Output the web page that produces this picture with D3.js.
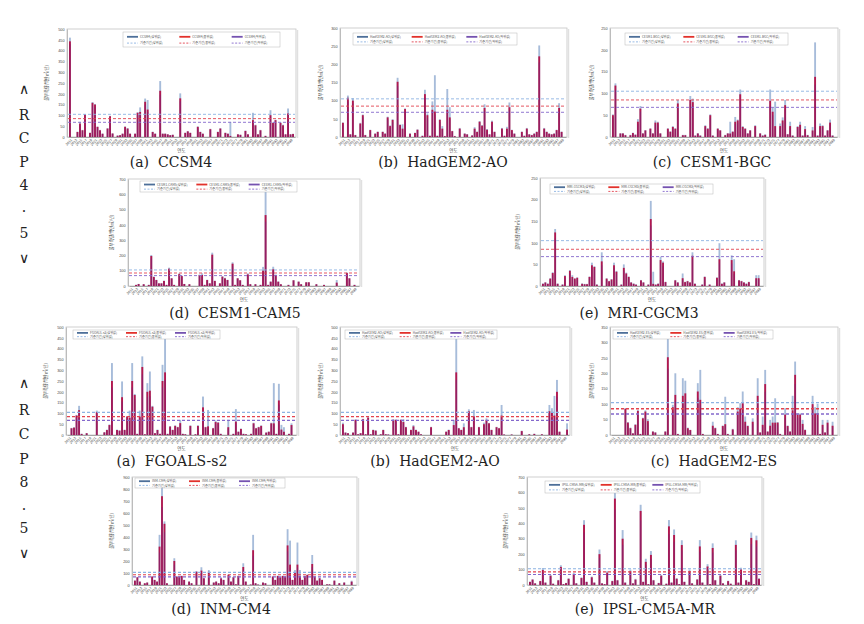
<!DOCTYPE html>
<html><head><meta charset="utf-8">
<script src="https://cdn.jsdelivr.net/npm/d3@7"></script>
<style>body{margin:0;background:#fff}svg{display:block}</style>
</head><body>
<svg id="c" width="864" height="624"></svg>
<script>
// ---------- categories ----------
const years = d3.range(2011, 2101);
const models = ["CCSM4","HadGEM2-AO","CESM1-BGC","CESM1-CAM5","MRI-CGCM3","FGOALS-s2","HadGEM2-AO","HadGEM2-ES","INM-CM4","IPSL-CM5A-MR"];
const captions = ["(a)  CCSM4","(b)  HadGEM2-AO","(c)  CESM1-BGC","(d)  CESM1-CAM5","(e)  MRI-CGCM3","(a)  FGOALS-s2","(b)  HadGEM2-AO","(c)  HadGEM2-ES","(d)  INM-CM4","(e)  IPSL-CM5A-MR"];
const yMax  = [500,300,250,700,250,500,500,350,900,700];
const yStep = [50,50,50,100,50,50,50,50,100,100];
const refLines = [105, 85, 68];
const seriesSuffix = ["(상위값)","(중위값)","(하위값)"];
const refLabels = ["기준기간(상위값)","기준기간(중위값)","기준기간(하위값)"];
const yTitle = "물부족량(백만㎥/년)";
const xTitle = "연도";
const rcpLabels = [["∧","R","C","P","4",".","5","∨"],["∧","R","C","P","8",".","5","∨"]];

// ---------- values (hi = blue, mid = red, lo = purple) ----------
const ccsm4Hi = [460,0,0,25,70,33,106,0,20,162, 153,48,33,16,0,41,98,17,0,7, 9,16,49,41,16,0,16,115,137,0, 178,171,0,25,16,0,259,16,16,13, 9,11,0,0,202,0,20,28,20,0, 0,49,25,16,0,0,38,0,0,25, 41,0,20,16,70,0,0,13,11,0, 30,13,0,112,57,13,33,0,6,0, 124,68,80,0,68,57,13,132,13,15];
const ccsm4Mid = [443,0,0,23,62,31,104,0,19,158, 150,47,31,15,0,39,96,16,0,6, 8,15,47,39,15,0,15,112,116,0, 163,127,0,23,15,0,214,15,15,12, 8,10,0,0,179,0,19,26,19,0, 0,47,23,15,0,0,36,0,0,23, 39,0,19,15,5,0,0,12,10,0, 28,12,0,78,54,12,31,0,5,0, 101,65,78,0,65,54,12,109,12,14];
const ccsm4Lo = [430,0,0,20,55,27,95,0,16,145, 140,42,27,13,0,35,88,14,0,5, 7,13,42,35,13,0,13,100,105,0, 150,115,0,20,13,0,195,13,13,10, 7,8,0,0,165,0,16,23,16,0, 0,42,20,13,0,0,32,0,0,20, 35,0,16,13,4,0,0,10,8,0, 25,10,0,70,48,10,27,0,4,0, 92,58,70,0,58,48,10,98,10,12];

const hadao45Hi = [40,0,114,8,107,6,0,39,62,6, 0,20,0,10,15,0,15,10,56,32, 49,0,163,35,35,79,0,10,0,12, 21,0,4,130,65,4,98,170,4,49, 30,3,132,82,17,3,0,25,0,10, 8,0,5,27,15,44,33,90,22,8, 45,15,0,0,25,4,28,95,20,10, 0,0,15,4,25,8,6,10,15,252, 0,25,15,10,8,10,20,93,15,0];
const hadao45Mid = [39,0,108,7,100,5,0,37,60,5, 0,19,0,9,14,0,14,9,54,30, 47,0,152,33,23,77,0,9,0,11, 20,0,3,118,60,3,75,70,3,47, 23,2,75,54,16,2,0,23,0,9, 7,0,4,23,14,42,31,80,20,7, 42,14,0,0,23,3,23,82,19,9, 0,0,14,3,23,7,5,9,14,222, 0,23,14,9,7,9,19,80,14,0];
const hadao45Lo = [34,0,98,6,92,4,0,32,54,4, 0,16,0,8,12,0,12,8,48,26, 41,0,140,29,20,70,0,8,0,9, 17,0,2,108,52,2,66,62,2,41, 20,2,66,48,14,2,0,20,0,8, 6,0,3,20,12,37,27,72,17,6, 37,12,0,0,20,2,20,74,16,8, 0,0,12,2,20,6,4,8,12,205, 0,20,12,8,6,8,16,72,12,0];

const bgcHi = [52,123,0,9,9,5,0,5,10,6, 41,71,9,16,0,20,9,38,35,9, 0,0,20,13,25,20,85,0,5,5, 0,94,88,4,9,4,0,27,20,52, 4,0,20,16,0,5,9,35,13,46, 40,109,25,20,9,16,0,27,0,9, 4,6,0,109,68,81,0,31,45,85, 7,35,4,0,25,35,4,25,5,0, 23,217,4,31,27,4,16,40,4,0];
const bgcMid = [50,118,0,8,8,4,0,4,9,5, 35,65,8,15,0,19,8,33,33,8, 0,0,19,12,23,19,77,0,4,4, 0,85,80,3,8,3,0,25,19,50, 3,0,19,15,0,4,8,8,12,35, 38,98,23,19,8,15,0,25,0,8, 3,5,0,83,58,25,0,25,38,73, 6,25,3,0,23,28,3,18,4,0, 15,138,3,25,25,3,15,33,3,0];
const bgcLo = [45,108,0,7,7,3,0,3,8,4, 30,58,7,13,0,16,7,29,29,7, 0,0,16,10,20,16,68,0,3,3, 0,76,71,2,7,2,0,22,16,44, 2,0,16,13,0,3,7,7,10,30, 33,88,20,16,7,13,0,22,0,7, 2,4,0,72,50,22,0,22,33,64, 5,22,2,0,20,24,2,15,3,0, 13,120,2,22,22,2,13,29,2,0];

const cam5Hi = [0,0,8,14,0,12,0,8,203,62, 41,18,18,35,8,120,52,8,0,83, 68,14,0,12,0,0,0,75,83,8, 41,18,218,35,0,18,64,54,41,0, 155,8,52,39,8,0,83,12,0,12, 0,8,125,628,8,30,126,75,30,12, 0,0,8,0,39,0,30,12,0,26, 26,0,0,12,0,0,8,0,0,0, 0,39,0,0,0,89,52,0,8,0];
const cam5Mid = [0,0,7,13,0,11,0,7,196,59, 39,17,17,33,7,113,50,7,0,78, 65,13,0,11,0,0,0,72,72,7, 39,17,205,33,0,17,61,50,39,0, 146,7,50,37,7,0,76,11,0,11, 0,7,100,464,7,28,109,72,28,11, 0,0,7,0,37,0,28,11,0,24, 24,0,0,11,0,0,7,0,0,0, 0,22,0,0,0,85,50,0,7,0];
const cam5Lo = [0,0,5,11,0,9,0,5,180,52, 34,14,14,28,5,100,44,5,0,70, 58,11,0,9,0,0,0,64,62,5, 34,14,188,28,0,14,54,44,34,0, 130,5,44,32,5,0,68,9,0,9, 0,5,88,420,5,24,96,64,24,9, 0,0,5,0,32,0,24,9,0,20, 20,0,0,9,0,0,5,0,0,0, 0,18,0,0,0,76,44,0,5,0];

const mriHi = [6,9,6,18,32,132,6,0,4,25, 0,37,25,18,20,0,6,5,5,22, 54,46,4,0,78,0,18,12,16,54, 35,0,4,50,31,22,9,6,4,0, 14,9,0,4,197,33,4,6,68,57, 10,0,0,0,14,9,0,29,10,12, 9,78,6,0,0,4,22,0,4,0, 0,20,99,6,9,0,0,71,62,0, 14,12,9,6,10,0,0,25,25,0];
const mriMid = [5,8,5,17,30,124,5,0,3,23, 0,35,21,17,19,0,5,4,4,21, 48,44,3,0,57,0,17,11,15,48, 33,0,3,42,29,21,8,5,3,0, 13,8,0,3,155,5,3,5,60,54, 9,0,0,0,13,8,0,18,9,11, 8,70,5,0,0,3,21,0,3,0, 0,19,62,5,8,0,0,60,34,0, 13,11,8,5,9,0,0,18,18,0];
const mriLo = [4,6,4,14,26,110,4,0,2,19, 0,30,18,14,16,0,4,3,3,18, 42,38,2,0,48,0,14,9,12,42, 28,0,2,36,25,18,6,4,2,0, 11,6,0,2,140,4,2,4,52,46, 7,0,0,0,11,6,0,15,7,9, 6,62,4,0,0,2,18,0,2,0, 0,16,52,4,6,0,0,52,28,0, 11,9,6,4,7,0,0,15,15,0];

const fgoalsHi = [0,33,36,93,135,6,0,9,0,0, 0,113,0,0,13,25,49,333,0,25, 22,248,25,88,113,333,190,6,113,364, 4,240,294,135,9,25,6,325,456,6, 41,25,45,38,70,6,4,0,45,0, 4,45,0,178,38,116,0,33,67,60, 6,0,0,70,0,6,120,16,30,6, 4,0,6,57,33,38,45,0,12,16, 57,240,6,237,47,36,0,6,54,0];
const fgoalsMid = [0,31,34,90,115,5,0,8,0,0, 0,105,0,0,12,23,46,250,0,23, 20,175,23,85,80,250,185,5,85,315, 3,200,205,131,8,23,5,250,290,5, 39,23,42,36,55,5,3,0,42,0, 3,42,0,128,36,40,0,31,60,57, 5,0,0,36,0,5,62,15,28,5, 3,0,5,54,31,36,42,0,11,15, 54,54,5,160,25,15,0,5,46,0];
const fgoalsLo = [0,27,30,80,100,4,0,6,0,0, 0,95,0,0,10,20,40,220,0,20, 17,155,20,75,70,220,165,4,75,280, 2,175,180,115,6,20,4,220,255,4, 34,20,37,32,48,4,2,0,37,0, 2,37,0,112,32,35,0,27,52,50, 4,0,0,31,0,4,54,13,24,4, 2,0,4,48,27,31,37,0,9,13, 48,48,4,140,22,13,0,4,40,0];

const hadao85Hi = [57,12,9,0,12,73,4,9,75,4, 85,4,25,22,0,4,25,4,3,0, 73,72,4,72,73,38,0,25,46,25, 16,4,0,0,0,38,0,0,0,0, 0,16,25,0,70,472,33,25,54,0, 119,38,116,0,38,0,57,77,56,25, 0,38,33,139,3,0,0,3,0,0, 0,20,0,0,4,0,6,0,0,4, 0,0,139,124,181,255,16,0,0,54];
const hadao85Mid = [50,11,8,0,11,70,3,8,73,3, 80,3,23,20,0,3,23,3,2,0, 70,70,3,70,60,36,0,23,40,23, 15,3,0,0,0,36,0,0,0,0, 0,15,23,0,46,290,31,23,36,0, 110,36,86,0,36,0,50,70,54,23, 0,36,31,90,2,0,0,2,0,0, 0,18,0,0,3,0,5,0,0,3, 0,0,110,105,90,200,15,0,0,25];
const hadao85Lo = [43,9,6,0,9,62,2,6,64,2, 70,2,19,16,0,2,19,2,1,0, 62,62,2,62,52,30,0,19,34,19, 12,2,0,0,0,30,0,0,0,0, 0,12,19,0,40,255,26,19,30,0, 96,30,75,0,30,0,43,62,47,19, 0,30,26,78,1,0,0,1,0,0, 0,15,0,0,2,0,4,0,0,2, 0,0,96,92,78,175,12,0,0,20];

const hadesHi = [0,0,0,0,0,87,42,24,6,35, 81,4,56,80,51,0,12,9,0,0, 0,12,320,0,98,200,4,0,184,176, 24,17,0,0,168,211,4,0,0,0, 43,24,4,0,31,124,4,0,20,0, 90,103,141,60,31,0,54,0,184,9, 60,211,12,49,60,119,42,4,0,87, 31,12,127,238,70,70,49,18,0,0, 127,90,101,4,49,9,49,0,43,0];
const hadesMid = [0,0,0,0,0,85,40,22,5,33, 78,3,54,76,45,0,11,8,0,0, 0,11,252,0,90,130,3,0,127,135, 22,16,0,0,141,114,3,0,0,0, 30,22,3,0,29,35,3,0,18,0, 76,86,103,43,29,0,43,0,127,8, 33,165,11,30,40,40,40,3,0,66, 29,11,80,195,66,66,36,16,0,0, 100,70,70,3,33,8,40,0,30,0];
const hadesLo = [0,0,0,0,0,72,34,18,4,28, 66,2,46,64,38,0,9,6,0,0, 0,9,215,0,76,110,2,0,108,115, 18,13,0,0,120,97,2,0,0,0, 25,18,2,0,24,30,2,0,15,0, 64,73,88,36,24,0,36,0,108,6, 28,140,9,25,34,34,34,2,0,56, 24,9,68,165,56,56,30,13,0,0, 85,60,60,2,28,6,34,0,25,0];

const inmHi = [38,67,30,0,15,22,0,73,44,30, 418,822,530,15,0,0,223,73,73,78, 44,0,30,15,0,117,0,148,58,0, 125,0,22,30,15,64,44,0,88,30, 67,6,78,0,181,30,0,4,418,15, 4,0,22,15,0,0,73,44,78,67, 78,73,465,370,44,125,354,125,44,78, 88,0,250,73,38,58,44,0,6,6, 0,38,0,15,0,22,0,0,36,0];
const inmMid = [36,64,28,0,14,20,0,70,42,28, 320,740,510,14,0,0,200,70,70,75, 42,0,28,14,0,110,0,120,56,0, 110,0,20,28,14,55,42,0,84,28, 64,5,75,0,150,28,0,3,290,14, 3,0,20,14,0,0,70,42,75,64, 75,70,330,170,42,105,170,75,42,75, 84,0,175,70,36,56,42,0,5,5, 0,36,0,14,0,20,0,0,28,0];
const inmLo = [30,54,23,0,11,16,0,60,36,23, 270,650,440,11,0,0,170,60,60,64, 36,0,23,11,0,94,0,100,47,0, 94,0,16,23,11,46,36,0,72,23, 54,4,64,0,128,23,0,2,245,11, 2,0,16,11,0,0,60,36,64,54, 64,60,280,145,36,90,145,64,36,64, 72,0,150,60,30,47,36,0,4,4, 0,30,0,11,0,16,0,0,23,0];

const ipslHi = [22,37,12,0,27,110,17,0,66,9, 0,33,128,6,14,44,0,78,12,0, 50,420,22,0,55,17,0,230,12,6, 90,0,28,615,33,0,356,17,0,100, 12,40,0,520,22,170,6,220,33,0, 14,66,0,9,421,17,360,45,6,290, 22,0,100,12,0,38,291,17,0,135, 6,270,33,0,66,12,0,28,9,0, 290,17,112,0,33,22,340,6,320,44];
const ipslMid = [20,35,10,0,25,97,15,0,60,8, 0,30,117,5,12,40,0,70,10,0, 45,390,20,0,50,15,0,200,10,5, 80,0,25,560,30,0,300,15,0,90, 10,35,0,480,20,150,5,195,30,0, 12,60,0,8,380,15,324,40,5,259, 20,0,90,10,0,35,250,15,0,120, 5,240,30,0,60,10,0,25,8,0, 260,15,100,0,30,20,305,5,290,40];
const ipslLo = [17,30,8,0,21,85,12,0,52,6, 0,26,100,4,10,34,0,60,8,0, 38,340,17,0,43,12,0,175,8,4, 70,0,21,490,26,0,260,12,0,78, 8,30,0,420,17,130,4,170,26,0, 10,52,0,6,330,12,280,34,4,225, 17,0,78,8,0,30,215,12,0,104, 4,210,26,0,52,8,0,21,6,0, 225,12,86,0,26,17,265,4,250,34];

const seriesHi  = [ccsm4Hi, hadao45Hi, bgcHi, cam5Hi, mriHi, fgoalsHi, hadao85Hi, hadesHi, inmHi, ipslHi];
const seriesMid = [ccsm4Mid, hadao45Mid, bgcMid, cam5Mid, mriMid, fgoalsMid, hadao85Mid, hadesMid, inmMid, ipslMid];
const seriesLo  = [ccsm4Lo, hadao45Lo, bgcLo, cam5Lo, mriLo, fgoalsLo, hadao85Lo, hadesLo, inmLo, ipslLo];

// ---------- layout & style ----------
const layout = [
  {l:67, r:296, t:29, b:137, cx:171, cy:167, yt:48, lg:[123,32,157,15], dw:0.9},
  {l:340,r:567, t:28, b:137, cx:443, cy:167, yt:322,lg:[353,33,164,12], dw:0.9},
  {l:610,r:838, t:28, b:137, cx:712, cy:167, yt:593,lg:[625,33,163,12], dw:0.9},
  {l:128,r:360, t:179,b:286, cx:235, cy:318, yt:113,lg:[140,181,157,11], dw:0.9},
  {l:540,r:764, t:178,b:286, cx:639, cy:318, yt:519,lg:[550,184,163,10], dw:0.9},
  {l:66, r:297, t:327,b:435, cx:172, cy:466, yt:47, lg:[73,330,147,9], dw:1.3},
  {l:340,r:570, t:327,b:435, cx:435, cy:466, yt:322,lg:[345,330,152,9], dw:1.3},
  {l:610,r:838, t:327,b:435, cx:714, cy:466, yt:593,lg:[613,330,160,9], dw:1.3},
  {l:132,r:357, t:477,b:585, cx:221, cy:614, yt:113,lg:[135,478,150,10], dw:1.1},
  {l:527,r:762, t:477,b:585, cx:645, cy:614, yt:507,lg:[545,481,155,12], dw:1.1}
];
const barColors = {hi:"#a7bcda", mid:"#b3184e", lo:"#7e2472"};
const legendLineColors = ["#4d6f99","#e2312b","#7552b0"];
const refColors = ["#8db3e2","#e2434f","#8468cc"];
const rcpY = [[89,115,138,162,185,207,233,258],[383,410,434,459,482,505,528,553]];

const svg = d3.select("#c");
svg.append("rect").attr("width",864).attr("height",624).attr("fill","#fff");

const KR = "'Noto Sans CJK KR', 'Noto Sans', sans-serif";

function drawPanel(i){
  const L = layout[i];
  const g = svg.append("g");
  const x = d3.scaleBand().domain(years).range([L.l+1, L.r-1]).paddingInner(0.25).paddingOuter(0.4);
  const y = d3.scaleLinear().domain([0, yMax[i]]).range([L.b, L.t]);

  g.append("rect").attr("x",L.l).attr("y",L.t).attr("width",L.r-L.l).attr("height",L.b-L.t)
    .attr("fill","#fff").attr("stroke","#c4c4c4").attr("stroke-width",0.8);
  g.append("line").attr("x1",L.r+1.5).attr("x2",L.r+1.5).attr("y1",L.t+1).attr("y2",L.b+1)
    .attr("stroke","#e0e0e0").attr("stroke-width",1.5);

  // y axis
  const ya = d3.axisLeft(y).tickValues(d3.range(0, yMax[i]+1, yStep[i])).tickSize(0).tickPadding(2.5);
  const yg = g.append("g").attr("transform",`translate(${L.l},0)`).call(ya);
  yg.attr("font-size",3.8).attr("font-family","'Liberation Sans', Arial, sans-serif");
  yg.select(".domain").attr("stroke","#a0a0a0").attr("stroke-width",0.6);
  yg.selectAll("text").attr("fill","#444");

  // bars
  const bw = x.bandwidth();
  const idx = d3.range(years.length);
  g.append("g").selectAll("rect").data(idx).join("rect")
    .attr("x", j => x(years[j])).attr("width", bw)
    .attr("y", j => y(seriesHi[i][j])).attr("height", j => L.b - y(seriesHi[i][j]))
    .attr("fill", barColors.hi);
  g.append("g").selectAll("rect").data(idx).join("rect")
    .attr("x", j => x(years[j])).attr("width", bw)
    .attr("y", j => y(seriesMid[i][j])).attr("height", j => L.b - y(seriesMid[i][j]))
    .attr("fill", barColors.mid);
  g.append("g").selectAll("rect").data(idx).join("rect")
    .attr("x", j => x(years[j]) + bw*0.3).attr("width", bw*0.45)
    .attr("y", j => y(seriesLo[i][j])).attr("height", j => L.b - y(seriesLo[i][j]))
    .attr("fill", barColors.lo).attr("opacity",0.8);

  // reference dashed lines
  refLines.forEach((v,k) => {
    g.append("line").attr("x1",L.l+1).attr("x2",L.r-1).attr("y1",y(v)).attr("y2",y(v))
      .attr("stroke",refColors[k]).attr("stroke-width",L.dw).attr("stroke-dasharray","3,2");
  });

  // x axis
  const xa = d3.axisBottom(x).tickValues(years.filter((yr,j)=> j%2===0)).tickSize(0).tickPadding(1);
  const xg = g.append("g").attr("transform",`translate(0,${L.b})`).call(xa);
  xg.attr("font-size",3.5).attr("font-family","'Liberation Sans', Arial, sans-serif");
  xg.select(".domain").attr("stroke","#888").attr("stroke-width",0.7);
  xg.selectAll("text").attr("fill","#444").attr("text-anchor","end")
    .attr("transform","translate(1,2) rotate(-45)").attr("dy","0.3em");

  // axis titles
  g.append("text").attr("x",(L.l+L.r)/2).attr("y",L.b+15).attr("text-anchor","middle")
    .attr("font-size",4.5).attr("font-family",KR).attr("fill","#444").text(xTitle);
  g.append("text").attr("transform",`translate(${L.yt},${(L.t+L.b)/2}) rotate(-90)`)
    .attr("text-anchor","middle").attr("font-size",4.2).attr("font-family",KR).attr("fill","#444").text(yTitle);

  // legend
  const [lx,ly,lw,lh] = L.lg;
  g.append("rect").attr("x",lx).attr("y",ly).attr("width",lw).attr("height",lh)
    .attr("fill","#fff").attr("stroke","#b8b8b8").attr("stroke-width",0.5);
  const colW = lw/3;
  for (let c=0;c<3;c++){
    const sx = lx + 4 + c*colW;
    const r1 = ly + lh*0.32, r2 = ly + lh*0.74;
    g.append("line").attr("x1",sx).attr("x2",sx+11).attr("y1",r1).attr("y2",r1)
      .attr("stroke",legendLineColors[c]).attr("stroke-width",1.8);
    g.append("text").attr("x",sx+13).attr("y",r1+1.2).attr("font-size",3.2).attr("font-family",KR)
      .attr("fill","#555").text(models[i]+seriesSuffix[c]);
    g.append("line").attr("x1",sx).attr("x2",sx+11).attr("y1",r2).attr("y2",r2)
      .attr("stroke",refColors[c]).attr("stroke-width",0.9).attr("stroke-dasharray","2,1.5");
    g.append("text").attr("x",sx+13).attr("y",r2+1.2).attr("font-size",3.2).attr("font-family",KR)
      .attr("fill","#555").text(refLabels[c]);
  }

  // caption
  g.append("text").attr("x",L.cx).attr("y",L.cy).attr("text-anchor","middle")
    .attr("font-size",14).attr("font-family","'DejaVu Serif', 'Liberation Serif', serif")
    .attr("fill","#222").attr("xml:space","preserve").style("white-space","pre").text(captions[i]);
}

for (let i=0;i<10;i++) drawPanel(i);

// RCP side labels
rcpLabels.forEach((chars, r) => {
  chars.forEach((ch, k) => {
    svg.append("text").attr("x",24).attr("y",rcpY[r][k]).attr("dy","0.35em").attr("text-anchor","middle")
      .attr("font-size",14).attr("font-family","'DejaVu Serif', 'Liberation Serif', serif")
      .attr("fill","#222").text(ch);
  });
});
</script>
</body></html>
